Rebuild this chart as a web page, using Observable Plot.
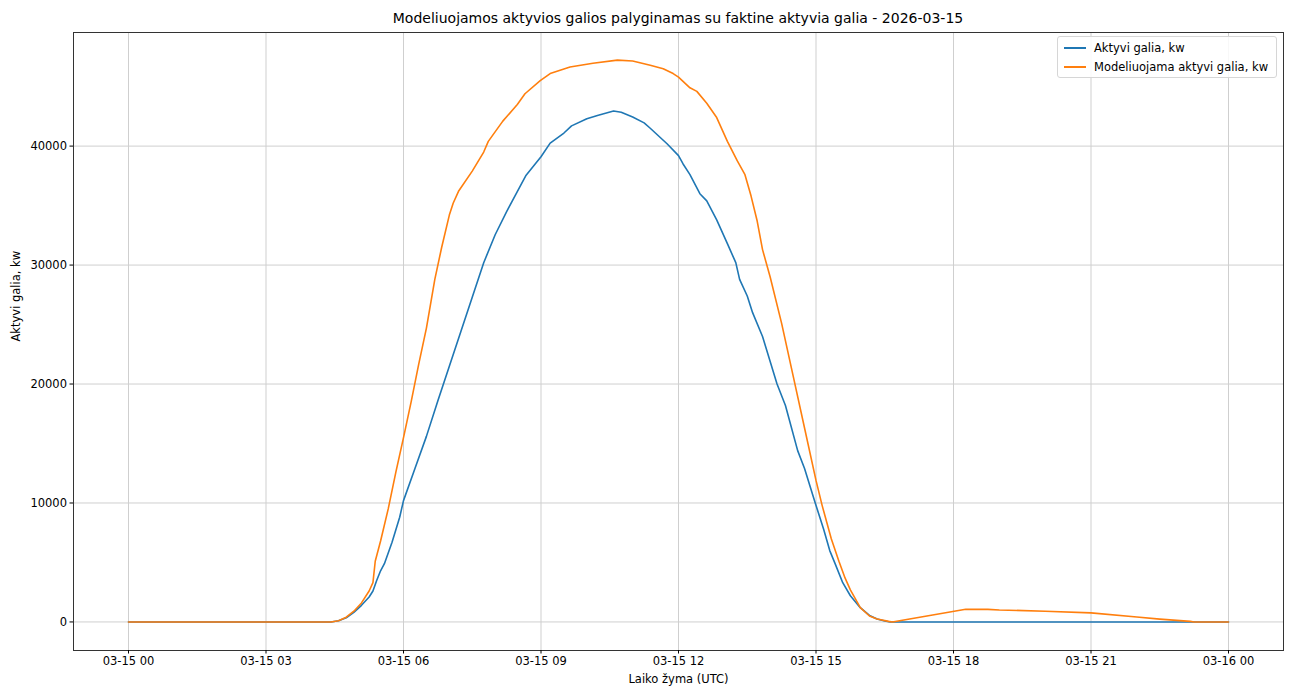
<!DOCTYPE html>
<html>
<head>
<meta charset="utf-8">
<script src="https://cdn.jsdelivr.net/npm/d3@7"></script>
<script src="https://cdn.jsdelivr.net/npm/@observablehq/plot@0.6"></script>
<style>
  html, body { margin: 0; padding: 0; background: #fff; }
  body { width: 1291px; height: 686px; overflow: hidden; font-family: "DejaVu Sans", sans-serif; }
  #wrap { position: relative; width: 1291px; height: 686px; }
  #title { box-sizing: border-box; height: 26px; padding-top: 11px; margin-left: 73px; width: 1210px;
           text-align: center; font-size: 14px; line-height: 14px; color: #000; white-space: nowrap; }
  #legend { position: absolute; left: 1057px; top: 36px; width: 220px; height: 42px; box-sizing: border-box;
            border: 1px solid #d6d6d6; border-radius: 3px; background: rgba(255,255,255,0.85);
            font-size: 11.5px; color: #000; }
  .item { position: absolute; left: 6px; height: 14px; }
  .swatch { position: absolute; left: 0; top: 6px; width: 22px; height: 2px; }
  .lab { position: absolute; left: 30px; top: -1px; white-space: nowrap; line-height: 16px; }
</style>
</head>
<body>
<div id="wrap">
  <div id="title"></div>
  <div id="chart"></div>
  <div id="legend"></div>
</div>
<script>
const chartTitle = "Modeliuojamos aktyvios galios palyginamas su faktine aktyvia galia - 2026-03-15";
const xLabel = "Laiko žyma (UTC)";
const yLabel = "Aktyvi galia, kw";
const seriesNames = ["Aktyvi galia, kw", "Modeliuojama aktyvi galia, kw"];
const seriesColors = ["#1f77b4", "#ff7f0e"];

// Actual active power (blue)
const actualTimes = ["00:00","04:25","04:35","04:45","04:55","05:05","05:15","05:20","05:25","05:30","05:35","05:45","05:55","06:00","06:15","06:30","06:45","07:00","07:15","07:30","07:45","08:00","08:15","08:30","08:40","09:00","09:12","09:30","09:40","10:00","10:15","10:35","10:45","11:00","11:15","11:23","11:45","12:00","12:06","12:15","12:28","12:37","12:50","13:04","13:15","13:20","13:30","13:37","13:50","14:09","14:20","14:36","14:45","14:59","15:10","15:18","15:25","15:35","15:45","15:58","16:10","16:20","16:30","16:37","24:00"];
const actualValues = [0,0,100,350,800,1400,2100,2600,3500,4300,4900,6700,8800,10200,12900,15600,18600,21500,24400,27300,30200,32550,34500,36300,37500,39100,40250,41100,41700,42300,42600,42950,42850,42450,41950,41500,40200,39200,38500,37600,36000,35400,33800,31800,30200,28800,27400,26000,24000,20000,18200,14400,12900,10000,7800,6000,4900,3300,2200,1200,550,250,80,0,0];

// Modelled active power (orange)
const modelTimes = ["00:00","04:25","04:35","04:45","04:55","05:05","05:15","05:20","05:23","05:30","05:40","05:50","06:00","06:10","06:20","06:30","06:41","06:50","07:00","07:05","07:12","07:30","07:45","07:51","08:10","08:29","08:39","08:59","09:12","09:38","10:08","10:40","11:00","11:23","11:40","11:53","12:00","12:15","12:24","12:37","12:50","13:04","13:17","13:27","13:35","13:43","13:50","14:00","14:15","14:30","14:45","15:00","15:08","15:20","15:30","15:38","15:45","15:58","16:10","16:20","16:35","16:40","18:16","18:45","19:00","20:00","21:00","22:00","22:30","23:10","23:15","24:00"];
const modelValues = [0,0,100,400,900,1600,2600,3300,5100,6800,9500,12600,15500,18500,21700,24700,28800,31500,34200,35200,36200,37900,39500,40400,42100,43500,44400,45500,46100,46650,46970,47230,47150,46800,46500,46100,45800,44900,44600,43600,42400,40400,38750,37600,35800,33700,31300,29000,25100,20700,16300,11900,9800,7000,5100,3700,2700,1200,500,250,50,0,1070,1060,1010,900,760,420,240,50,0,0];

const xTickHours = [0,3,6,9,12,15,18,21,24];
const yTicks = [0,10000,20000,30000,40000];

function toDate(s) {
  const [h, m] = s.split(":").map(Number);
  return new Date(Date.UTC(2026, 2, 15, h, m));
}
const hourDate = h => new Date(Date.UTC(2026, 2, 15, 0, 0) + h * 3600e3);

const actual = actualTimes.map((t, i) => ({t: toDate(t), v: actualValues[i]}));
const model = modelTimes.map((t, i) => ({t: toDate(t), v: modelValues[i]}));

document.getElementById("title").textContent = chartTitle;

const chart = Plot.plot({
  width: 1291,
  height: 660,
  marginLeft: 73,
  marginRight: 8,
  marginTop: 6,
  marginBottom: 36,
  style: {fontFamily: "DejaVu Sans, sans-serif", fontSize: "11.5px", color: "#000", background: "#fff"},
  x: {type: "utc", domain: [hourDate(-1.2), hourDate(25.2)], ticks: xTickHours.map(hourDate),
      tickFormat: d3.utcFormat("%m-%d %H"), tickSize: 3.5, tickPadding: 3, label: null},
  y: {domain: [-2400, 49550], ticks: yTicks, tickFormat: d3.format("d"), tickSize: 3.5, tickPadding: 3, label: null},
  marks: [
    Plot.gridX(xTickHours.map(hourDate), {stroke: "#cfcfcf", strokeOpacity: 1, strokeWidth: 1}),
    Plot.gridY(yTicks, {stroke: "#cfcfcf", strokeOpacity: 1, strokeWidth: 1}),
    Plot.line(actual, {x: "t", y: "v", stroke: seriesColors[0], strokeWidth: 1.6}),
    Plot.line(model, {x: "t", y: "v", stroke: seriesColors[1], strokeWidth: 1.6}),
    Plot.frame({stroke: "#333", strokeWidth: 1}),
    Plot.axisX(xTickHours.map(hourDate), {tickFormat: d3.utcFormat("%m-%d %H"), tickSize: 3.5, tickPadding: 3, label: null}),
    Plot.axisY(yTicks, {tickFormat: d3.format("d"), tickSize: 3.5, tickPadding: 3, label: null}),
    Plot.text([xLabel], {frameAnchor: "bottom", dy: 29, lineAnchor: "middle", fontSize: 11.5}),
    Plot.text([yLabel], {frameAnchor: "left", dx: -57, rotate: -90, lineAnchor: "middle", fontSize: 11.5})
  ]
});
document.getElementById("chart").appendChild(chart);

const legend = document.getElementById("legend");
seriesNames.forEach((name, i) => {
  const item = document.createElement("div");
  item.className = "item";
  item.style.top = (4 + i * 19) + "px";
  item.innerHTML = `<div class="swatch" style="background:${seriesColors[i]}"></div><div class="lab"></div>`;
  item.querySelector(".lab").textContent = name;
  legend.appendChild(item);
});
</script>
</body>
</html>
